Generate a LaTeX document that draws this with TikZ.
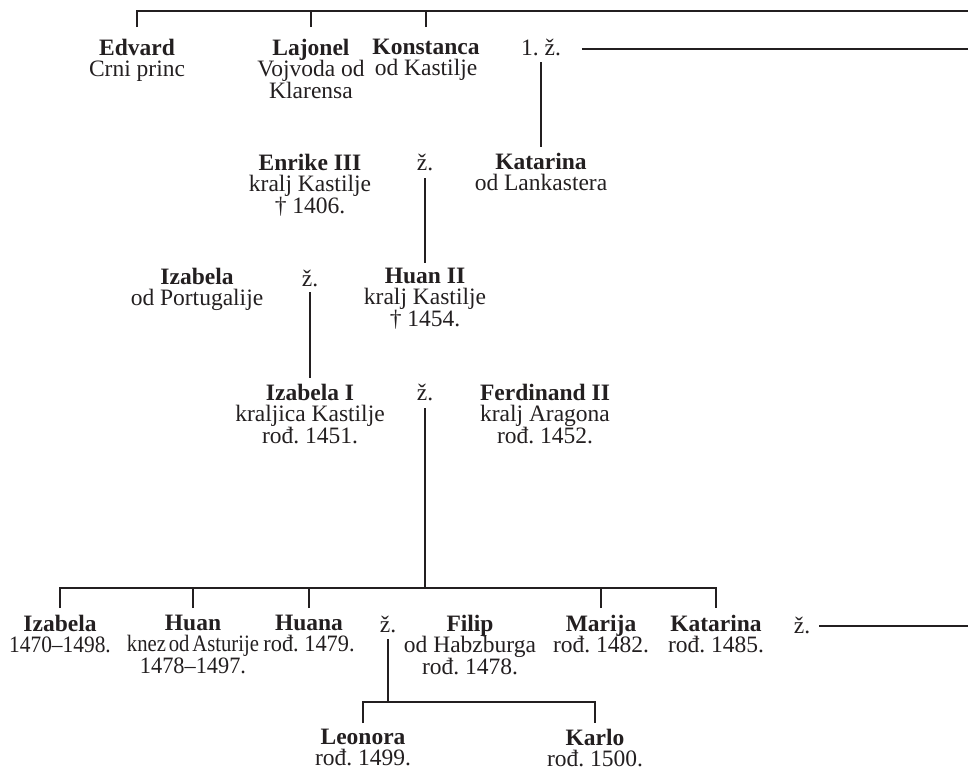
\documentclass[tikz,border=0pt]{standalone}
\usepackage{fontspec}
\setmainfont{Liberation Serif}
\usetikzlibrary{calc}
\definecolor{ink}{RGB}{35,31,32}
\frenchspacing
\begin{document}
\begin{tikzpicture}[x=1pt,y=-1pt,
  person/.style={align=center,inner sep=0pt,outer sep=0pt,anchor=north,text=ink,
    font=\fontsize{23.5}{21.5}\selectfont\frenchspacing,execute at begin node=\rule{0pt}{18pt}},
  conn/.style={draw=ink,line width=2pt}]
\useasboundingbox (0,0) rectangle (968,772);

% generation 1
\node[person] (edvard)    at (137,39) {\textbf{Edvard}\\Crni princ};
\node[person] (lajonel)   at (311,39) {\textbf{Lajonel}\\Vojvoda od\\Klarensa};
\node[person] (konstanca) at (426,39) {\textbf{Konstanca}\\od Kastilje};
\node[person] (z1)        at (541,37) {1. ž.};
\coordinate (topR) at (968,11);
\coordinate (m1R)  at (968,49);

% generation 2
\node[person] (katarina1) at (541,153) {\textbf{Katarina}\\od Lankastera};
\node[person] (enrike)    at (310,154) {\textbf{Enrike III}\\kralj Kastilje\\† 1406.};
\node[person] (zE)        at (425,152) {ž.};

% generation 3
\node[person] (huan2)     at (425,268) {\textbf{Huan II}\\kralj Kastilje\\† 1454.};
\node[person] (izabelaP)  at (197,268) {\textbf{Izabela}\\od Portugalije};
\node[person] (zI)        at (310,268) {ž.};

% generation 4
\node[person] (izabela1)  at (310,384) {\textbf{Izabela I}\\kraljica Kastilje\\rođ. 1451.};
\node[person] (zF)        at (425,382) {ž.};
\node[person] (ferdinand) at (545,384) {\textbf{Ferdinand II}\\kralj Aragona\\rođ. 1452.};
\coordinate (bar2) at (425,588);

% generation 5
\node[person] (izabelaC)  at (60,615)  {\textbf{Izabela}\\\scalebox{0.91}[1]{1470–1498.}};
\node[person] (huanC)     at (193,615) {\textbf{Huan}\\\scalebox{0.88}[1]{\spaceskip=0.14em\relax knez od Asturije}\\\scalebox{0.95}[1]{1478–1497.}};
\node[person] (huana)     at (309,615) {\textbf{Huana}\\\scalebox{0.95}[1]{rođ. 1479.}};
\node[person] (zH)        at (388,614) {ž.};
\node[person] (filip)     at (470,615) {\textbf{Filip}\\od Habzburga\\rođ. 1478.};
\node[person] (marija)    at (601,615) {\textbf{Marija}\\rođ. 1482.};
\node[person] (katarinaC) at (716,615) {\textbf{Katarina}\\rođ. 1485.};
\node[person] (zK)        at (802,615) {ž.};
\coordinate (kR) at (968,626);
\coordinate (bar3) at (388,702);

% generation 6
\node[person] (leonora)   at (363,729) {\textbf{Leonora}\\rođ. 1499.};
\node[person] (karlo)     at (595,729) {\textbf{Karlo}\\rođ. 1500.};

% top bar
\draw[conn] ([yshift=12pt]edvard.north) -- (edvard.north |- topR) -- (topR);
\draw[conn] ([yshift=12pt]lajonel.north) -- (lajonel.north |- topR);
\draw[conn] ([yshift=12pt]konstanca.north) -- (konstanca.north |- topR);
% first marriage
\draw[conn] ($(z1.east |- m1R)+(21,0)$) -- (m1R);
\draw[conn] ($(z1.south)+(0,7)$) -- ($(katarina1.north)+(0,-6)$);
% Enrike x Katarina
\draw[conn] ($(zE.south)+(0,8)$) -- ($(huan2.north)+(0,-5)$);
% Izabela x Huan II
\draw[conn] ($(zI.south)+(0,6)$) -- ($(izabela1.north)+(0,-6)$);
% Izabela I x Ferdinand
\draw[conn] ($(zF.south)+(0,8)$) -- (bar2);
\draw[conn] ([yshift=7pt]izabelaC.north) -- (izabelaC.north |- bar2) -- (katarinaC.north |- bar2) -- ([yshift=7pt]katarinaC.north);
\draw[conn] ([yshift=7pt]huanC.north) -- (huanC.north |- bar2);
\draw[conn] ([yshift=7pt]huana.north) -- (huana.north |- bar2);
\draw[conn] ([yshift=7pt]marija.north) -- (marija.north |- bar2);
% Katarina marriage
\draw[conn] ($(zK.east |- kR)+(9,0)$) -- (kR);
% Huana x Filip
\draw[conn] ($(zH.south)+(0,7)$) -- (bar3);
\draw[conn] ([yshift=6pt]leonora.north) -- (leonora.north |- bar3) -- (karlo.north |- bar3) -- ([yshift=6pt]karlo.north);
\end{tikzpicture}
\end{document}
